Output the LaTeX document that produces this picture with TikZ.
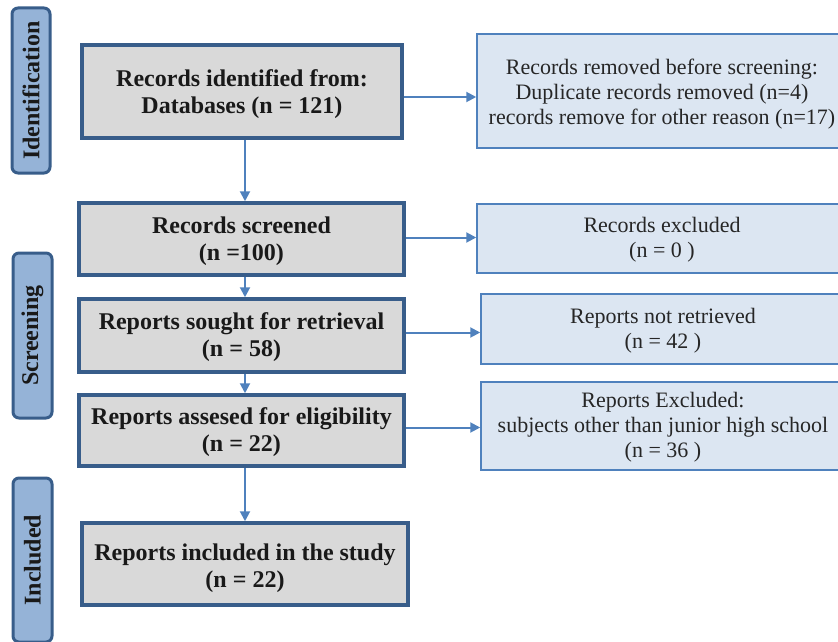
\documentclass[tikz,border=0pt]{standalone}
\usepackage{fontspec}
\setmainfont{Liberation Serif}
\usetikzlibrary{arrows.meta,calc}
\definecolor{mainborder}{HTML}{385D8A}
\definecolor{mainfill}{HTML}{D9D9D9}
\definecolor{sidefill}{HTML}{95B3D7}
\definecolor{rightfill}{HTML}{DCE6F2}
\definecolor{rightborder}{HTML}{4F81BD}
\definecolor{arrowcol}{HTML}{4F81BD}
\tikzset{
  x=1pt, y=-1pt,
  mainbox/.style={draw=mainborder, line width=3.5pt, fill=mainfill, inner sep=0pt},
  maintxt/.style={align=center, inner sep=0pt, font=\fontsize{24}{27}\selectfont\bfseries, text=black!90},
  rightbox/.style={draw=rightborder, line width=1.5pt, fill=rightfill, inner sep=0pt},
  righttxt/.style={align=center, inner sep=0pt, font=\fontsize{22}{25}\selectfont, text=black!85},
  sidelab/.style={draw=mainborder, line width=3pt, fill=sidefill, rounded corners=6pt,
    inner sep=0pt, font=\fontsize{24}{26}\selectfont\bfseries, text=black!90, rotate=90},
  arr/.style={draw=arrowcol, line width=2pt, -{Triangle[length=10pt,width=10pt]}}
}
\begin{document}
\begin{tikzpicture}
\useasboundingbox (0,0) rectangle (838,642);
\clip (0,0) rectangle (838,642);
% side labels
\node[sidelab, minimum width=165pt, minimum height=38pt] (sid) at (31,90.5) {Identification};
\node[sidelab, minimum width=165pt, minimum height=39pt] (sscr) at (32.5,335.5) {Screening};
\node[sidelab, minimum width=164pt, minimum height=39pt] (sinc) at (32.5,560) {Included};
% main boxes
\node[mainbox, minimum width=320pt, minimum height=93pt] (b1) at (242,91.5) {};
\node[maintxt] (t1) at ([yshift=-3pt]b1.center) {Records identified from:\\Databases (n = 121)};
\node[mainbox, minimum width=325pt, minimum height=72pt] (b2) at (241.5,239) {};
\node[maintxt] (t2) at ([yshift=-2pt]b2.center) {Records screened\\(n =100)};
\node[mainbox, minimum width=325pt, minimum height=73pt] (b3) at (241.5,335.5) {};
\node[maintxt] (t3) at ([yshift=-2pt]b3.center) {Reports sought for retrieval\\(n = 58)};
\node[mainbox, minimum width=325pt, minimum height=71pt] (b4) at (241.5,430.5) {};
\node[maintxt] (t4) at ([yshift=-2pt]b4.center) {Reports assesed for eligibility\\(n = 22)};
\node[mainbox, minimum width=326pt, minimum height=82pt] (b5) at (245,564) {};
\node[maintxt] (t5) at ([yshift=-4pt]b5.center) {Reports included in the study\\(n = 22)};
% right boxes
\node[rightbox, minimum width=370pt, minimum height=114pt] (r1) at (662,91) {};
\node[righttxt] (u1) at ([yshift=-3pt]r1.center) {Records removed before screening:\\Duplicate records removed (n=4)\\records remove for other reason (n=17)};
\node[rightbox, minimum width=370pt, minimum height=69pt] (r2) at (662,238.5) {};
\node[righttxt] (u2) at ([yshift=-1pt]r2.center) {Records excluded\\(n = 0 )};
\node[rightbox, minimum width=364pt, minimum height=70pt] (r3) at (663,329) {};
\node[righttxt] (u3) at ([yshift=-2pt]r3.center) {Reports not retrieved\\(n = 42 )};
\node[rightbox, minimum width=364pt, minimum height=88pt] (r4) at (663,426) {};
\node[righttxt] (u4) at ([yshift=-1pt]r4.center) {Reports Excluded:\\subjects other than junior high school\\(n = 36 )};
% vertical arrows
\coordinate (vx) at (245,0);
\draw[arr] (b1.south -| vx) -- (b2.north -| vx);
\draw[arr] (b2.south -| vx) -- (b3.north -| vx);
\draw[arr] (b3.south -| vx) -- (b4.north -| vx);
\draw[arr] (b4.south -| vx) -- (b5.north -| vx);
% horizontal arrows
\draw[arr] ([yshift=-5.5pt]b1.east) -- ([yshift=-5.5pt]b1.east -| r1.west);
\draw[arr] ([yshift=1.5pt]b2.east) -- ([yshift=1.5pt]b2.east -| r2.west);
\draw[arr] ([yshift=3pt]b3.east) -- ([yshift=3pt]b3.east -| r3.west);
\draw[arr] ([yshift=3pt]b4.east) -- ([yshift=3pt]b4.east -| r4.west);
\end{tikzpicture}
\end{document}
